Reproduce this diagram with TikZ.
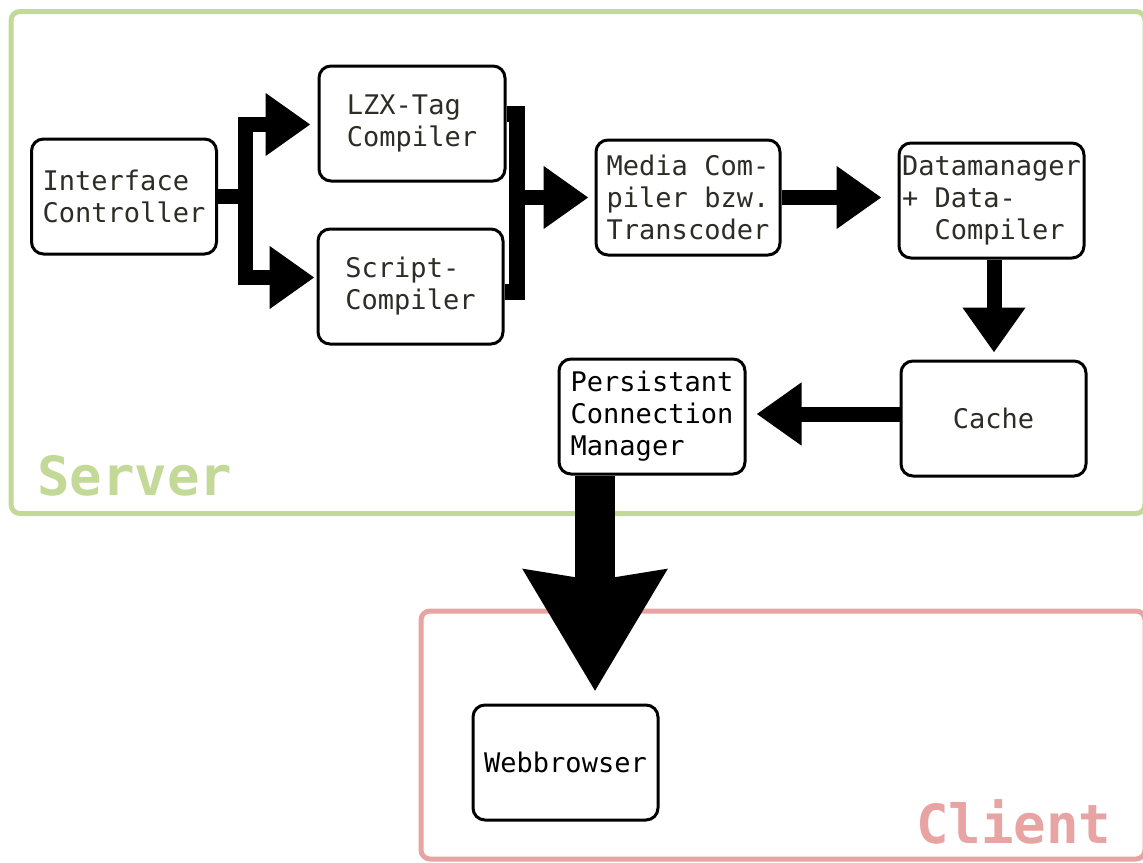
\documentclass[tikz,border=0pt]{standalone}
\usepackage{fontspec}
\setmonofont{DejaVu Sans Mono}
\usetikzlibrary{arrows.meta}
\definecolor{servergreen}{HTML}{C3D997}
\definecolor{clientpink}{HTML}{E8A3A3}
\definecolor{labelgrey}{HTML}{2C2D26}
\tikzset{
  block/.style={draw=black, line width=3pt, rounded corners=12pt, fill=white,
    minimum width=185pt, minimum height=115pt, inner sep=0pt, align=left,
    text=labelgrey, font=\ttfamily\fontsize{27}{32}\selectfont},
  flow/.style={draw=black, line width=15pt, line join=miter,
    -{Triangle[length=45pt, width=60pt]}},
  bracket/.style={draw=black, line width=16pt, line join=miter},
  bigflow/.style={draw=black, line width=40pt,
    -{Stealth[length=120pt, width=138pt, inset=9pt]}},
  frame/.style={line width=5pt, rounded corners=9pt},
  zonelabel/.style={font=\ttfamily\bfseries\fontsize{54}{60}\selectfont, inner sep=0pt, anchor=base west}
}
\begin{document}
\begin{tikzpicture}[x=1pt, y=-1pt]
\useasboundingbox (0,0) rectangle (1143,862);

% zones
\draw[frame, servergreen] (11,11.5) rectangle (1145,513.5);
\draw[frame, clientpink] (421,611) rectangle (1145,859);
\node[zonelabel, text=servergreen] (srv) at (37,495) {Server};
\node[zonelabel, text=clientpink] (cli) at (916,843) {Client};

% processing blocks
\node[block] (ic)    at (124,196.5)  {Interface\\Controller};
\node[block, minimum width=186pt] (lzx) at (412,123.5) {LZX-Tag\\Compiler};
\node[block] (scr)   at (410.5,286.5) {Script-\\Compiler};
\node[block, minimum width=184pt] (med) at (688,197.5) {Media Com-\\piler bzw.\\Transcoder};
\node[block] (dm)    at (991.5,200.5) {Datamanager\\+ Data-\\\phantom{xx}Compiler};
\node[block] (cache) at (993.5,418.5) {Cache};
\node[block, minimum width=186pt, text=black] (pcm) at (652,416.5) {Persistant\\Connection\\Manager};
\node[block, text=black] (web) at (565.5,762.5) {Webbrowser};

% fan-out from the interface controller
\coordinate (j1) at (245,196.5);
\draw[flow] (ic.east) -- (j1) |- ([xshift=-7pt,yshift=-1pt]lzx.west);
\draw[flow] (ic.east) -- (j1) |- ([xshift=-2pt,yshift=9pt]scr.west);

% merge of both compilers into the media compiler
\coordinate (j2) at (517,198);
\draw[bracket] ([yshift=9.5pt]lzx.east) -| (j2) |- ([yshift=-5.5pt]scr.east);
\draw[flow] (j2 |- med.west) -- ([xshift=-6pt]med.west);

% main chain
\draw[flow] (med.east) -- ([xshift=-16pt]dm.west |- med.east);
\draw[flow] ([xshift=2.5pt]dm.south) -- ([xshift=0.5pt,yshift=7pt]cache.north);
\draw[flow] ([yshift=4.5pt]cache.west) -- ([xshift=10pt,yshift=2.5pt]pcm.east);

% delivery to the client
\draw[bigflow] ([xshift=-57pt]pcm.south) -- ([xshift=29.5pt,yshift=12pt]web.north);
\end{tikzpicture}
\end{document}
